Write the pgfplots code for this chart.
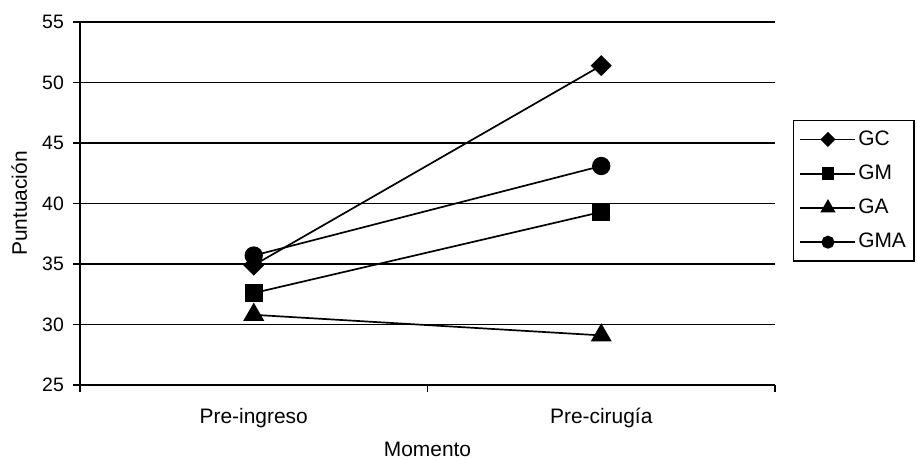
\documentclass[border=0pt]{standalone}
\usepackage{fontspec}
\setmainfont{Liberation Sans}
\usepackage{pgfplots}
\pgfplotsset{compat=1.18}
\begin{document}
\fontsize{21}{24}\selectfont
\begin{tikzpicture}
\begin{axis}[
  scale only axis, width=695bp, height=363bp,
  xmin=0.5, xmax=2.5, ymin=25, ymax=55,
  ytick={25,30,...,55},
  xtick={0.5,1.5,2.5}, xticklabels={},
  extra x ticks={1,2},
  extra x tick labels={Pre-ingreso,Pre-cirugía},
  extra x tick style={major tick length=0pt, grid=none, tick label style={anchor=base, yshift=-38bp, font=\fontsize{21}{24}\selectfont}},
  axis x line*=bottom, axis y line*=left,
  ymajorgrids, grid style={black, line width=1.4pt},
  axis line style={black, line width=1.4pt},
  tick style={black, line width=1.2pt},
  tick align=outside, major tick length=7bp,
  /pgf/number format/assume math mode=true,
  yticklabel style={anchor=east, xshift=-2bp, font=\fontsize{19.5}{22}\selectfont},
  xlabel={Momento}, ylabel={Puntuación},
  every axis x label/.style={at={(axis description cs:0.5,-0.196)}, anchor=base, font=\fontsize{21}{24}\selectfont},
  every axis y label/.style={at={(axis description cs:-0.0763,0.5)}, rotate=90, anchor=base, font=\fontsize{21}{24}\selectfont},
  legend style={at={(1.0259,0.7300)}, anchor=north west, draw=black, line width=1.2pt,
    font=\fontsize{21}{24}\selectfont, row sep=12.5bp, inner xsep=6bp, inner ysep=8bp},
  legend cell align=left,
  legend image code/.code={\draw[mark repeat=2, mark phase=2, #1, every mark/.append style={scale=0.68}] plot coordinates {(0bp,0bp) (27.5bp,0bp) (55bp,0bp)};},
  every axis plot/.append style={black, line width=1.7pt, mark options={solid, fill=black}},
]
\coordinate (bl) at (rel axis cs:0,0);
\coordinate (tr) at (rel axis cs:1,1);
\addplot[mark=square*, mark size=6.6bp, mark options={rotate=45}] coordinates {(1,34.9) (2,51.4)};
\addlegendentry{GC}
\addplot[mark=square*, mark size=8bp] coordinates {(1,32.6) (2,39.3)};
\addlegendentry{GM}
\addplot[mark=triangle*, mark size=10.5bp] coordinates {(1,30.8) (2,29.1)};
\addlegendentry{GA}
\addplot[mark=*, mark size=8.3bp] coordinates {(1,35.7) (2,43.1)};
\addlegendentry{GMA}
\end{axis}
\pgfresetboundingbox
\path[use as bounding box] ([shift={(-80bp,-75bp)}]bl) rectangle ([shift={(142bp,22bp)}]tr);
\end{tikzpicture}
\end{document}
